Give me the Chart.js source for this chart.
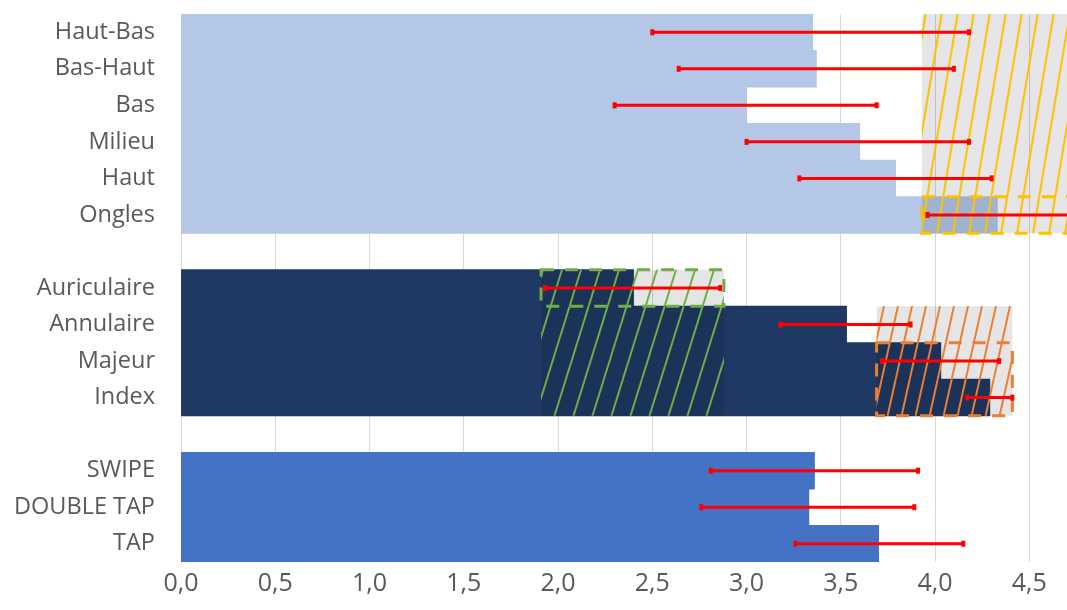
<!DOCTYPE html>
<html>
<head>
<meta charset="utf-8">
<script src="https://cdn.jsdelivr.net/npm/chart.js@4"></script>
<style>
  html, body { margin: 0; background: #fff; }
  #wrap { width: 1067px; height: 610px; }
</style>
</head>
<body>
<div id="wrap"><canvas id="chart"></canvas></div>
<script>
// categories (empty strings are the gaps between groups)
const labels = ["Haut-Bas", "Bas-Haut", "Bas", "Milieu", "Haut", "Ongles", "",
  "Auriculaire", "Annulaire", "Majeur", "Index", "",
  "SWIPE", "DOUBLE TAP", "TAP"];

const means   = [3.35, 3.37, 3.00, 3.60, 3.79, 4.33, null, 2.40, 3.53, 4.03, 4.29, null, 3.36, 3.33, 3.70];
const errLow  = [2.50, 2.64, 2.30, 3.00, 3.28, 3.96, null, 1.93, 3.18, 3.72, 4.17, null, 2.81, 2.76, 3.26];
const errHigh = [4.18, 4.10, 3.69, 4.18, 4.30, 4.75, null, 2.86, 3.87, 4.34, 4.41, null, 3.91, 3.89, 4.15];

const xTicks = [0, 0.5, 1, 1.5, 2, 2.5, 3, 3.5, 4, 4.5];

// highlighted zones
const yellowRange = [3.93, 4.75];
const yellowRows = ["Haut-Bas", "Bas-Haut", "Bas", "Milieu", "Haut", "Ongles"];
const yellowBoxRows = ["Ongles"];

const greenRange = [1.91, 2.88];
const greenRows = ["Auriculaire", "Annulaire", "Majeur", "Index"];
const greenBoxRows = ["Auriculaire"];

const orangeRange = [3.69, 4.41];
const orangeRows = ["Annulaire", "Majeur", "Index"];
const orangeBoxRows = ["Majeur", "Index"];

const zones = [
  { range: yellowRange, rows: yellowRows, box: yellowBoxRows, color: "#ffc000", step: 16, rise: 6 },
  { range: greenRange, rows: greenRows, box: greenBoxRows, color: "#70ad47", step: 19, rise: 3.2 },
  { range: orangeRange, rows: orangeRows, box: orangeBoxRows, color: "#ed7d31", step: 14, rise: 4.5 },
];

function barColor(i) {
  if (i < 6) return "#b4c7e7";
  if (i < 11) return "#1f3864";
  return "#4472c4";
}

function makeHatch(color, step, rise) {
  const c = document.createElement("canvas");
  const w = step, h = Math.round(step * rise);
  c.width = w;
  c.height = h;
  const g = c.getContext("2d");
  g.strokeStyle = color;
  g.lineWidth = 2;
  for (const off of [-w, 0, w]) {
    g.beginPath();
    g.moveTo(off, h);
    g.lineTo(off + w, 0);
    g.stroke();
  }
  return g.createPattern(c, "repeat");
}

function zoneData(z) {
  return labels.map(l => (z.rows.includes(l) ? z.range : null));
}

// dashed frames + red error bars
const overlays = {
  id: "overlays",
  afterDatasetsDraw(chart) {
    const { ctx, chartArea, scales: { x, y } } = chart;
    const half = (chartArea.bottom - chartArea.top) / labels.length / 2;
    ctx.save();

    zones.forEach(z => {
      const idx = z.box.map(l => labels.indexOf(l));
      const top = y.getPixelForValue(Math.min(...idx)) - half;
      const bottom = y.getPixelForValue(Math.max(...idx)) + half;
      const left = x.getPixelForValue(z.range[0]);
      const right = x.getPixelForValue(z.range[1]);
      ctx.strokeStyle = z.color;
      ctx.lineWidth = 3;
      ctx.setLineDash([13, 11]);
      ctx.strokeRect(left, top, right - left, bottom - top);
    });

    ctx.setLineDash([]);
    ctx.strokeStyle = "#ff0000";
    ctx.fillStyle = "#ff0000";
    ctx.lineWidth = 3;
    labels.forEach((l, i) => {
      if (errLow[i] == null) return;
      const py = y.getPixelForValue(i);
      const x0 = x.getPixelForValue(errLow[i]);
      const x1 = x.getPixelForValue(errHigh[i]);
      ctx.beginPath();
      ctx.moveTo(x0, py);
      ctx.lineTo(x1, py);
      ctx.stroke();
      ctx.fillRect(x0 - 2, py - 3, 4, 6);
      ctx.fillRect(x1 - 2, py - 3, 4, 6);
    });
    ctx.restore();
  }
};

// bars first, then the grey zones over them, then the hatching
const datasets = [];
datasets.push({
  data: means,
  backgroundColor: labels.map((l, i) => barColor(i)),
  inflateAmount: 0.5,
  order: 3,
});
zones.forEach(z => {
  datasets.push({ data: zoneData(z), backgroundColor: "rgba(0,0,0,0.1)", inflateAmount: 0, order: 2 });
});
zones.forEach(z => {
  datasets.push({ data: zoneData(z), backgroundColor: makeHatch(z.color, z.step, z.rise), inflateAmount: 0, order: 1 });
});

const ctx = document.getElementById("chart").getContext("2d");

new Chart(ctx, {
  type: "bar",
  data: { labels, datasets },
  options: {
    indexAxis: "y",
    responsive: true,
    maintainAspectRatio: false,
    animation: false,
    datasets: {
      bar: { barPercentage: 1, categoryPercentage: 1, grouped: false, borderWidth: 0 }
    },
    layout: { padding: { top: 14, right: 0, bottom: 4, left: 0 } },
    plugins: {
      legend: { display: false },
      tooltip: { enabled: false },
    },
    scales: {
      x: {
        min: 0,
        max: 4.7,
        afterBuildTicks: s => {
          s.ticks = xTicks.map(v => ({ value: v }));
        },
        ticks: {
          color: "#595959",
          font: { family: "Open Sans", size: 25 },
          padding: 7,
          callback: v => Number(v).toFixed(1).replace(".", ","),
        },
        grid: { color: "#d9d9d9", drawTicks: false },
        border: { display: false },
      },
      y: {
        afterFit: s => {
          s.width = 181;
          s.paddingTop = 0;
          s.paddingBottom = 0;
        },
        ticks: {
          color: "#595959",
          font: { family: "Open Sans", size: 23.5 },
          padding: 26,
          autoSkip: false,
        },
        grid: { display: false, drawTicks: false },
        border: { display: true, color: "#d9d9d9" },
      },
    },
  },
  plugins: [overlays],
});
</script>
</body>
</html>
